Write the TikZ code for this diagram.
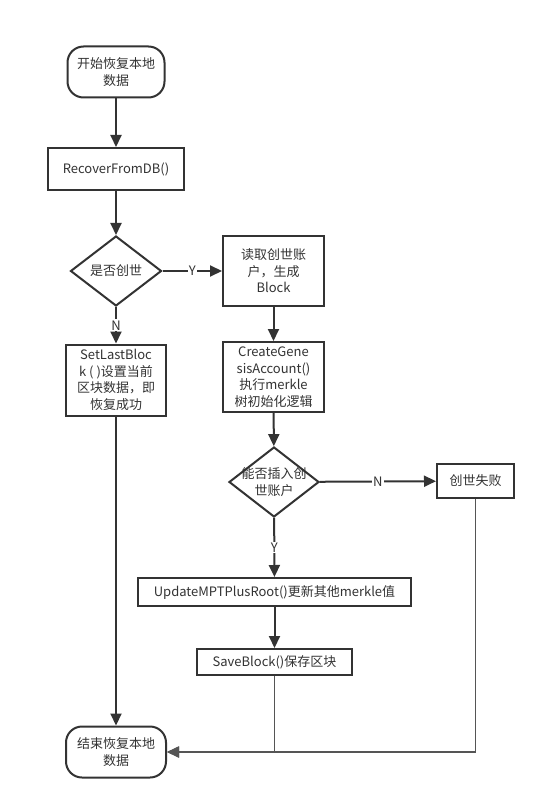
\documentclass[tikz,border=0pt]{standalone}
\usepackage{fontspec}
\setmainfont{Noto Sans CJK SC}
\usepackage{xcolor}
\usepackage{tikz}
\usetikzlibrary{arrows.meta, shapes.geometric}

\definecolor{ink}{HTML}{333333}
\definecolor{returngray}{HTML}{555555}

\tikzset{
	base/.style = {draw=ink, line width=2pt, text=ink, inner sep=0pt, align=center, font=\fontsize{13}{16.5}\selectfont},
	terminal/.style = {base, rectangle, rounded corners=16pt},
	process/.style = {base, rectangle},
	decision/.style = {base, diamond},
	flow/.style = {draw=ink, line width=2pt, -{Triangle[length=12pt, width=11pt]}},
	backflow/.style = {draw=returngray, line width=1.7pt, -{Triangle[length=12pt, width=11pt]}},
	answer/.style = {fill=white, text=ink, inner sep=1pt, font=\fontsize{13}{14}\selectfont}
}

\begin{document}
\begin{tikzpicture}[x=1pt, y=-1pt]
		\useasboundingbox [fill=white] (0,0) rectangle (546,810);

		\begin{scope}
			\node [terminal, minimum width=97pt, minimum height=51pt] (start) at (116,72) {开始恢复本地\\数据};
			\node [process, minimum width=136pt, minimum height=42pt] (recover) at (116,169) {RecoverFromDB()};
			\node [decision, minimum width=91pt, minimum height=70pt, label={[text=ink, align=center, font=\fontsize{13}{16.5}\selectfont]center:是否创世}] (isgenesis) at (116,271) {};
			\node [process, minimum width=101pt, minimum height=70pt] (readacct) at (273.5,271) {读取创世账\\户，生成\\Block};
			\node [process, minimum width=100pt, minimum height=71pt] (setlast) at (116,380) {SetLastBloc\\k ( )设置当前\\区块数据，即\\恢复成功};
			\node [process, minimum width=101pt, minimum height=70pt] (create) at (273.5,377) {CreateGene\\sisAccount()\\执行merkle\\树初始化逻辑};
			\node [decision, minimum width=90pt, minimum height=70pt, label={[text=ink, align=center, font=\fontsize{13}{16.5}\selectfont]center:能否插入创\\世账户}] (caninsert) at (274,482) {};
			\node [process, minimum width=77pt, minimum height=34pt] (fail) at (475.5,481) {创世失败};
			\node [process, minimum width=273pt, minimum height=28pt] (update) at (274.5,592) {UpdateMPTPlusRoot()更新其他merkle值};
			\node [process, minimum width=155pt, minimum height=26pt] (save) at (274.5,662) {SaveBlock()保存区块};
			\node [terminal, minimum width=100pt, minimum height=51pt] (finish) at (116,752) {结束恢复本地\\数据};
		\end{scope}

		\begin{scope}
			\draw [flow] (start) -- (recover);
			\draw [flow] (recover) -- (isgenesis);
			\draw [flow] (isgenesis) -- node [answer] {Y} (readacct);
			\draw [flow] (isgenesis) -- node [answer] {N} (setlast);
			\draw [flow] (readacct) -- (create);
			\draw [flow] (create) -- (caninsert);
			\draw [flow] (caninsert) -- node [answer] {N} (fail);
			\draw [flow] (caninsert) -- node [answer] {Y} (update);
			\draw [flow] (update) -- (save);
			\draw [flow] (setlast) -- (finish);
		\end{scope}

		\begin{scope}
			\draw [backflow] (fail.south) |- (finish.east);
			\draw [backflow] (save.south) |- (finish.east);
		\end{scope}
	\end{tikzpicture}
\end{document}
